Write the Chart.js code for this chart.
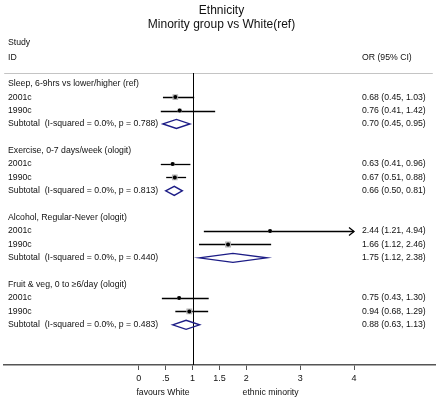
<!DOCTYPE html>
<html><head><meta charset="utf-8">
<script src="https://cdn.jsdelivr.net/npm/chart.js@4/dist/chart.umd.min.js"></script>
<style>html,body{margin:0;padding:0;background:#fff}#wrap{width:440px;height:400px}</style>
</head><body><div id="wrap"><canvas id="c" width="440" height="400"></canvas></div>
<script>
const titleLines = ["Ethnicity", "Minority group vs White(ref)"];
const groups = ["Sleep, 6-9hrs vs lower/higher (ref)", "Exercise, 0-7 days/week (ologit)", "Alcohol, Regular-Never (ologit)", "Fruit & veg, 0 to \u22656/day (ologit)"];
const studies = ["2001c", "1990c"];
const orValues = [[0.68, 0.76], [0.63, 0.67], [2.44, 1.66], [0.75, 0.94]];
const ciLow = [[0.45, 0.41], [0.41, 0.51], [1.21, 1.12], [0.43, 0.68]];
const ciHigh = [[1.03, 1.42], [0.96, 0.88], [4.94, 2.46], [1.30, 1.29]];
const weights = [[69, 31], [29, 71], [24, 76], [25, 75]];
const subOR = [0.70, 0.66, 1.75, 0.88];
const subLow = [0.45, 0.50, 1.12, 0.63];
const subHigh = [0.95, 0.81, 2.38, 1.13];
const subI2 = ["0.0%", "0.0%", "0.0%", "0.0%"];
const subP = ["0.788", "0.813", "0.440", "0.483"];
const xTicks = [0, 0.5, 1, 1.5, 2, 3, 4];
const xTickLabels = ["0", ".5", "1", "1.5", "2", "3", "4"];
const favoursLabels = ["favours White", "ethnic minority"];
const favoursAt = [0.45, 2.45];

const FONT = "Arial, 'Liberation Sans', Helvetica, sans-serif";
const ROWS_PER_GROUP = 5;
const rowOf = (g, k) => g * ROWS_PER_GROUP + k; // k: 0 header, 1-2 studies, 3 subtotal
const xClip = xTicks[xTicks.length - 1];
const fmt = v => v.toFixed(2);

const squarePts = [], dotPts = [], squareR = [];
groups.forEach((g, gi) => {
  studies.forEach((s, si) => {
    const p = {x: orValues[gi][si], y: rowOf(gi, si + 1)};
    squarePts.push(p); dotPts.push(p);
    const side = 0.68 * Math.sqrt(weights[gi][si]);
    squareR.push(side / Math.SQRT2);
  });
});

const forestPlugin = {
  id: 'forest',
  beforeDatasetsDraw(chart) {
    const {ctx, chartArea: ca, scales: {x, y}} = chart;
    ctx.save();
    ctx.strokeStyle = '#c4c4c4'; ctx.lineWidth = 1;
    ctx.beginPath(); ctx.moveTo(ca.left, ca.top + 0.5); ctx.lineTo(ca.right - 3, ca.top + 0.5); ctx.stroke();
    const x1 = Math.round(x.getPixelForValue(1)) + 0.5;
    ctx.strokeStyle = '#000'; ctx.lineWidth = 1;
    ctx.beginPath(); ctx.moveTo(x1, ca.top); ctx.lineTo(x1, ca.bottom); ctx.stroke();
    groups.forEach((g, gi) => {
      studies.forEach((s, si) => {
        const py = Math.round(y.getPixelForValue(rowOf(gi, si + 1))) + 0.5;
        const lo = x.getPixelForValue(ciLow[gi][si]);
        const hiV = Math.min(ciHigh[gi][si], xClip);
        const hi = x.getPixelForValue(hiV);
        ctx.strokeStyle = '#000'; ctx.lineWidth = 1.3;
        ctx.beginPath(); ctx.moveTo(lo, py); ctx.lineTo(hi, py); ctx.stroke();
        if (ciHigh[gi][si] > xClip) {
          ctx.beginPath(); ctx.moveTo(hi - 5, py - 4); ctx.lineTo(hi, py); ctx.lineTo(hi - 5, py + 4); ctx.stroke();
        }
      });
      const dy = y.getPixelForValue(rowOf(gi, 3));
      const l = x.getPixelForValue(subLow[gi]), r = x.getPixelForValue(subHigh[gi]), m = x.getPixelForValue(subOR[gi]);
      ctx.strokeStyle = '#1c1c86'; ctx.lineWidth = 1.4;
      ctx.beginPath(); ctx.moveTo(l, dy); ctx.lineTo(m, dy - 4.5); ctx.lineTo(r, dy); ctx.lineTo(m, dy + 4.5); ctx.closePath(); ctx.stroke();
    });
    ctx.restore();
  },
  afterDraw(chart) {
    const {ctx, scales: {x, y}} = chart;
    ctx.save();
    ctx.fillStyle = '#111';
    ctx.font = '8.7px ' + FONT;
    ctx.textBaseline = 'middle';
    const LX = 8, RX = 362;
    ctx.textAlign = 'left';
    ctx.fillText('Study', LX, y.getPixelForValue(-3.04));
    ctx.fillText('ID', LX, y.getPixelForValue(-1.92));
    ctx.fillText('OR (95% CI)', RX, y.getPixelForValue(-1.92));
    groups.forEach((g, gi) => {
      ctx.fillText(g, LX, y.getPixelForValue(rowOf(gi, 0)));
      studies.forEach((s, si) => {
        const py = y.getPixelForValue(rowOf(gi, si + 1));
        ctx.fillText(s, LX, py);
        ctx.fillText(fmt(orValues[gi][si]) + ' (' + fmt(ciLow[gi][si]) + ', ' + fmt(ciHigh[gi][si]) + ')', RX, py);
      });
      const sy = y.getPixelForValue(rowOf(gi, 3));
      ctx.fillText('Subtotal  (I-squared = ' + subI2[gi] + ', p = ' + subP[gi] + ')', LX, sy);
      ctx.fillText(fmt(subOR[gi]) + ' (' + fmt(subLow[gi]) + ', ' + fmt(subHigh[gi]) + ')', RX, sy);
    });
    ctx.textAlign = 'center';
    favoursLabels.forEach((t, i) => ctx.fillText(t, x.getPixelForValue(favoursAt[i]), 393));
    ctx.restore();
  }
};

new Chart(document.getElementById('c'), {
  type: 'scatter',
  data: {
    datasets: [
      {order: 2, data: squarePts, pointStyle: 'rect', pointRadius: squareR, pointBackgroundColor: '#b4b4b4', pointBorderWidth: 0, pointBorderColor: 'rgba(0,0,0,0)'},
      {order: 1, data: dotPts, pointStyle: 'circle', pointRadius: 2, pointBackgroundColor: '#000', pointBorderColor: '#000', pointBorderWidth: 0}
    ]
  },
  options: {
    responsive: false, animation: false, devicePixelRatio: 1,
    layout: {padding: {left: 3, right: 0, top: 0, bottom: 0}},
    plugins: {
      legend: {display: false}, tooltip: {enabled: false},
      title: {display: true, text: titleLines, color: '#111', font: {size: 12, family: FONT, weight: 'normal'}, padding: {top: 3, bottom: 41.2}}
    },
    scales: {
      x: {
        type: 'linear', min: -2.5, max: 5.52,
        afterBuildTicks: s => { s.ticks = xTicks.map(v => ({value: v})); },
        afterFit: s => { s.height = 35; },
        ticks: {autoSkip: false, maxRotation: 0, padding: 3, color: '#111', font: {size: 9, family: FONT},
          callback: v => { const i = xTicks.indexOf(v); return i >= 0 ? xTickLabels[i] : ''; }},
        grid: {drawOnChartArea: false, drawTicks: true, tickLength: 5, color: '#555', lineWidth: 1},
        border: {display: true, color: '#555', width: 1.5}
      },
      y: {type: 'linear', reverse: true, min: -0.8, max: 21, display: false}
    }
  },
  plugins: [forestPlugin]
});
</script>
</body></html>
